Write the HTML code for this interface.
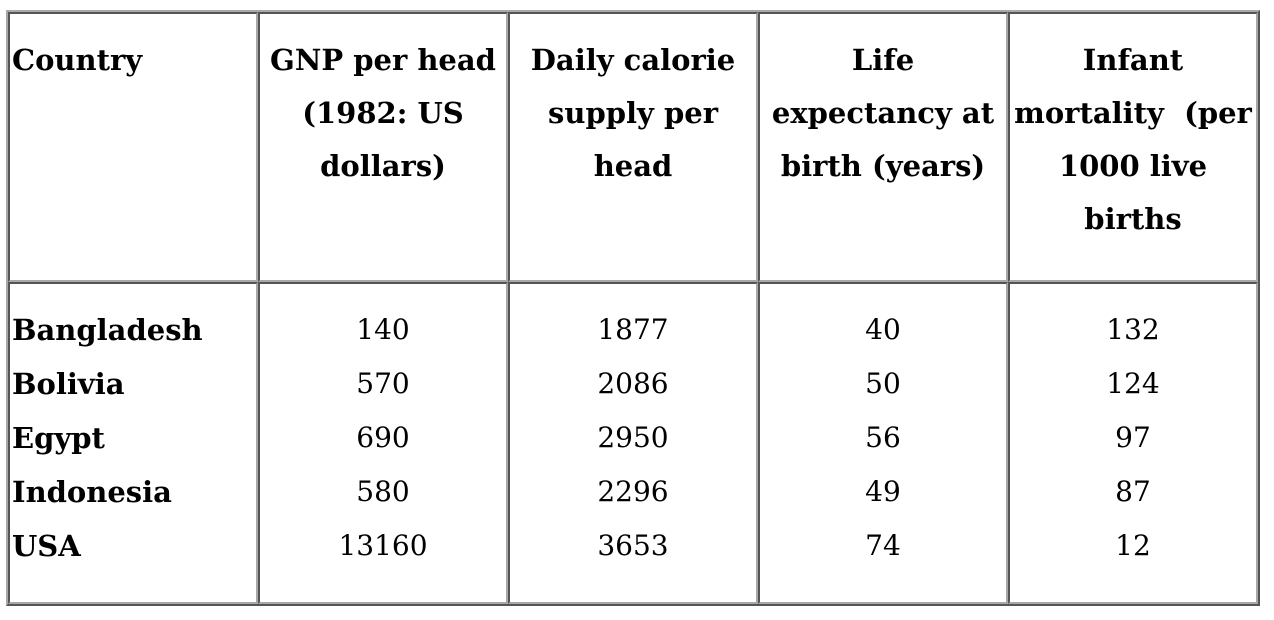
<!DOCTYPE html>
<html><head><meta charset="utf-8">
<style>
body{margin:0;width:1274px;height:620px;background:#fff;position:relative;overflow:hidden;font-family:"DejaVu Serif","Liberation Serif",serif;color:#000}
.outer{position:absolute;left:6px;top:10px;width:1250px;height:592px;border:2px solid;border-color:#a8a8a8 #555 #555 #a8a8a8}
.cell{position:absolute;box-sizing:border-box;border:2px solid;border-color:#555 #a8a8a8 #a8a8a8 #555;text-align:center;white-space:nowrap}
.h{font-weight:bold;font-size:29px;line-height:53px;padding-top:20px}
.b{font-size:28px;line-height:54px;padding-top:19px}
.l{text-align:left;padding-left:2px}
.bold{font-weight:bold;font-size:29px}
</style></head><body>
<div class="outer"></div>
<div class="cell h l" style="left:8px;top:12px;width:250px;height:270px">Country</div>
<div class="cell h" style="left:258px;top:12px;width:250px;height:270px">GNP per head<br>(1982: US<br>dollars)</div>
<div class="cell h" style="left:508px;top:12px;width:250px;height:270px">Daily calorie<br>supply per<br>head</div>
<div class="cell h" style="left:758px;top:12px;width:250px;height:270px">Life<br>expectancy at<br>birth (years)</div>
<div class="cell h" style="left:1008px;top:12px;width:250px;height:270px">Infant<br>mortality&nbsp; (per<br>1000 live<br>births</div>
<div class="cell b l bold" style="left:8px;top:282px;width:250px;height:322px">Bangladesh<br>Bolivia<br>Egypt<br>Indonesia<br>USA</div>
<div class="cell b" style="left:258px;top:282px;width:250px;height:322px">140<br>570<br>690<br>580<br>13160</div>
<div class="cell b" style="left:508px;top:282px;width:250px;height:322px">1877<br>2086<br>2950<br>2296<br>3653</div>
<div class="cell b" style="left:758px;top:282px;width:250px;height:322px">40<br>50<br>56<br>49<br>74</div>
<div class="cell b" style="left:1008px;top:282px;width:250px;height:322px">132<br>124<br>97<br>87<br>12</div>
</body></html>
